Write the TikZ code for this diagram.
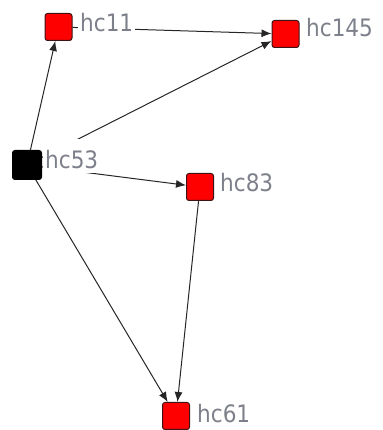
\documentclass[tikz,border=0pt]{standalone}
\usepackage{fontspec}
\newfontfamily\labelfont{DejaVu Sans Condensed}
\usetikzlibrary{arrows.meta}
\definecolor{nodered}{RGB}{255,0,0}
\definecolor{nodeedge}{RGB}{60,20,20}
\definecolor{labelgray}{RGB}{125,128,138}
\tikzset{
  vertex/.style={rectangle, rounded corners=2.5pt, draw=nodeedge, line width=1pt,
    fill=nodered, minimum size=27pt, inner sep=0pt},
  rootvertex/.style={vertex, fill=black, draw=black, minimum size=29pt},
  vlabel/.style={anchor=base west, fill=white, inner xsep=2pt, inner ysep=1pt,
    text height=29pt, text depth=3pt, text=labelgray,
    font=\labelfont\fontsize{24}{24}\selectfont},
  link/.style={draw=black!85, line width=1pt, -{Latex[length=10pt,width=8pt]}}
}
\begin{document}
\begin{tikzpicture}[x=1pt,y=1pt]
  \useasboundingbox (0,0) rectangle (382,430);
  % vertices
  \node[vertex] (hc11) at (58.5,403) {};
  \node[vertex] (hc145) at (285.5,396) {};
  \node[rootvertex] (hc53) at (27,265) {};
  \node[vertex] (hc83) at (200,243) {};
  \node[vertex] (hc61) at (176,14) {};
  % links
  \draw[link] (hc53) -- (hc11);
  \draw[link] (hc11) -- (hc145);
  \draw[link] (hc53) -- (hc145);
  \draw[link] (hc53) -- (hc83);
  \draw[link] (hc53) -- (hc61);
  \draw[link] (hc83) -- (hc61);
  % vertex labels, drawn over the links
  \node[vlabel] (t11) at (78,398) {hc11};
  \node[vlabel] (t145) at (304,393) {hc145};
  \node[vlabel] (t53) at (43,261) {hc53};
  \node[vlabel] (t83) at (218,238) {hc83};
  \node[vlabel] (t61) at (195,8) {hc61};
\end{tikzpicture}
\end{document}
